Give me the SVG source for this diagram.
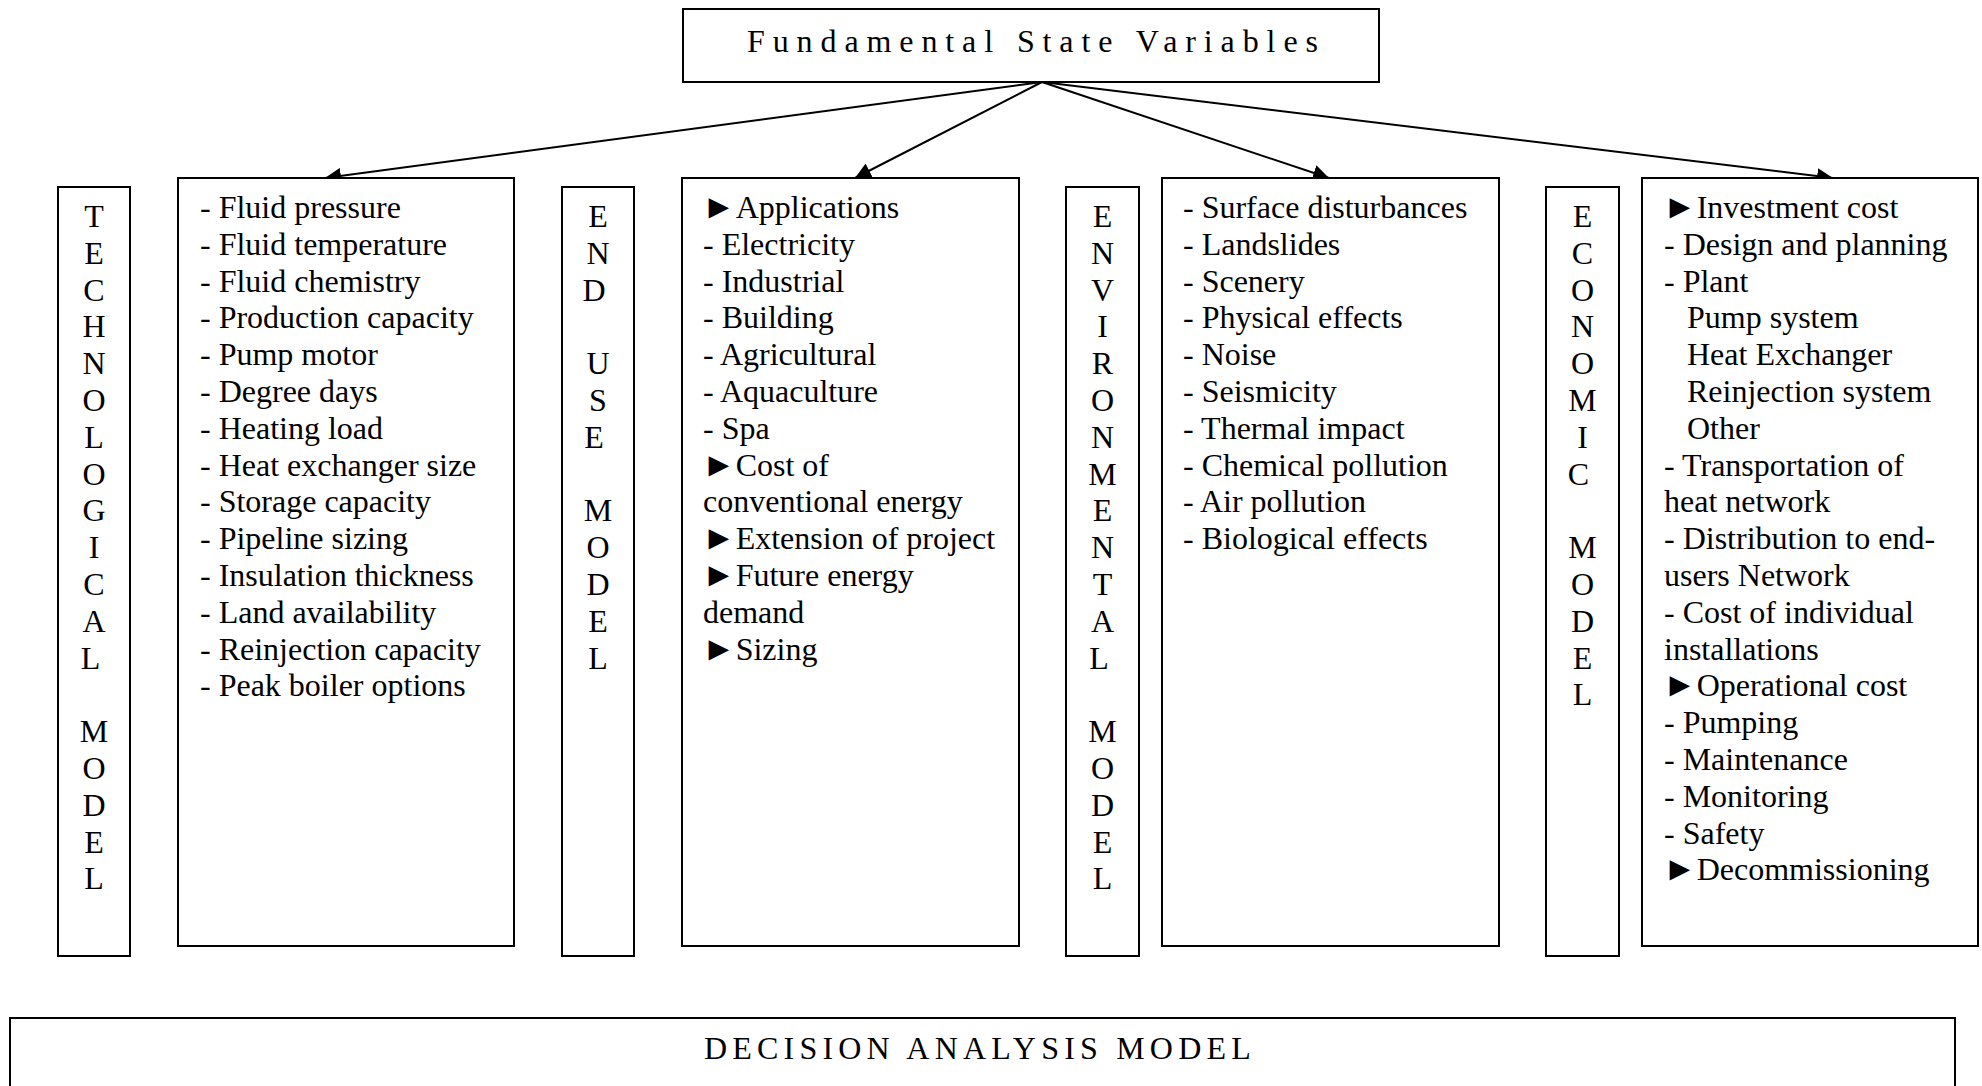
<svg xmlns="http://www.w3.org/2000/svg" width="1982" height="1086" viewBox="0 0 1982 1086">
<style>
  .box { fill: #ffffff; stroke: #000000; stroke-width: 2; }
  .txt { font-family: "Liberation Serif", "Times New Roman", serif; font-size: 32px; fill: #000000; }
  .lbl { font-family: "Liberation Serif", "Times New Roman", serif; font-size: 32px; fill: #000000; text-anchor: middle; }
  .tri { font-size: 34px; }
  .conn { stroke: #000000; stroke-width: 2; fill: none; marker-end: url(#arrow); }
</style>
<defs>
  <marker id="arrow" markerUnits="userSpaceOnUse" markerWidth="17" markerHeight="16" refX="16" refY="8" orient="auto">
    <path d="M0,0 L16,8 L0,16 Z" fill="#000000"/>
  </marker>
</defs>
<rect width="1982" height="1086" fill="#ffffff"/>

<g id="connectors">
  <line class="conn" x1="1042" y1="82" x2="325" y2="178"/>
  <line class="conn" x1="1042" y1="82" x2="855" y2="178"/>
  <line class="conn" x1="1042" y1="82" x2="1329" y2="178"/>
  <line class="conn" x1="1042" y1="82" x2="1833" y2="178"/>
</g>

<g id="fundamental">
  <rect class="box" x="683" y="9" width="696" height="73"/>
  <text class="txt" x="747" y="52" letter-spacing="7.9">Fundamental State Variables</text>
</g>

<g id="tech-label">
  <rect class="box" x="58" y="187" width="72" height="769"/>
  <text class="lbl">
    <tspan x="94" y="227">T</tspan><tspan x="94" y="263.8">E</tspan><tspan x="94" y="300.6">C</tspan><tspan x="94" y="337.4">H</tspan><tspan x="94" y="374.2">N</tspan><tspan x="94" y="411">O</tspan><tspan x="94" y="447.8">L</tspan><tspan x="94" y="484.6">O</tspan><tspan x="94" y="521.4">G</tspan><tspan x="94" y="558.2">I</tspan><tspan x="94" y="595">C</tspan><tspan x="94" y="631.8">A</tspan><tspan x="94" y="668.6">L</tspan>
    <tspan x="94" y="742.2">M</tspan><tspan x="94" y="779">O</tspan><tspan x="94" y="815.8">D</tspan><tspan x="94" y="852.6">E</tspan><tspan x="94" y="889.4">L</tspan>
  </text>
</g>

<g id="tech-content">
  <rect class="box" x="178" y="178" width="336" height="768"/>
  <text class="txt">
    <tspan x="200" y="218">- Fluid pressure</tspan>
    <tspan x="200" y="254.8">- Fluid temperature</tspan>
    <tspan x="200" y="291.6">- Fluid chemistry</tspan>
    <tspan x="200" y="328.4">- Production capacity</tspan>
    <tspan x="200" y="365.2">- Pump motor</tspan>
    <tspan x="200" y="402">- Degree days</tspan>
    <tspan x="200" y="438.8">- Heating load</tspan>
    <tspan x="200" y="475.6">- Heat exchanger size</tspan>
    <tspan x="200" y="512.4">- Storage capacity</tspan>
    <tspan x="200" y="549.2">- Pipeline sizing</tspan>
    <tspan x="200" y="586">- Insulation thickness</tspan>
    <tspan x="200" y="622.8">- Land availability</tspan>
    <tspan x="200" y="659.6">- Reinjection capacity</tspan>
    <tspan x="200" y="696.4">- Peak boiler options</tspan>
  </text>
</g>

<g id="enduse-label">
  <rect class="box" x="562" y="187" width="72" height="769"/>
  <text class="lbl">
    <tspan x="598" y="227">E</tspan><tspan x="598" y="263.8">N</tspan><tspan x="598" y="300.6">D</tspan>
    <tspan x="598" y="374.2">U</tspan><tspan x="598" y="411">S</tspan><tspan x="598" y="447.8">E</tspan>
    <tspan x="598" y="521.4">M</tspan><tspan x="598" y="558.2">O</tspan><tspan x="598" y="595">D</tspan><tspan x="598" y="631.8">E</tspan><tspan x="598" y="668.6">L</tspan>
  </text>
</g>

<g id="enduse-content">
  <rect class="box" x="682" y="178" width="337" height="768"/>
  <text class="txt">
    <tspan x="702" y="218" class="tri">►</tspan><tspan>Applications</tspan>
    <tspan x="703" y="254.8">- Electricity</tspan>
    <tspan x="703" y="291.6">- Industrial</tspan>
    <tspan x="703" y="328.4">- Building</tspan>
    <tspan x="703" y="365.2">- Agricultural</tspan>
    <tspan x="703" y="402">- Aquaculture</tspan>
    <tspan x="703" y="438.8">- Spa</tspan>
    <tspan x="702" y="475.6" class="tri">►</tspan><tspan>Cost of</tspan>
    <tspan x="703" y="512.4">conventional energy</tspan>
    <tspan x="702" y="549.2" class="tri">►</tspan><tspan>Extension of project</tspan>
    <tspan x="702" y="586" class="tri">►</tspan><tspan>Future energy</tspan>
    <tspan x="703" y="622.8">demand</tspan>
    <tspan x="702" y="659.6" class="tri">►</tspan><tspan>Sizing</tspan>
  </text>
</g>

<g id="env-label">
  <rect class="box" x="1066" y="187" width="73" height="769"/>
  <text class="lbl">
    <tspan x="1102.5" y="227">E</tspan><tspan x="1102.5" y="263.8">N</tspan><tspan x="1102.5" y="300.6">V</tspan><tspan x="1102.5" y="337.4">I</tspan><tspan x="1102.5" y="374.2">R</tspan><tspan x="1102.5" y="411">O</tspan><tspan x="1102.5" y="447.8">N</tspan><tspan x="1102.5" y="484.6">M</tspan><tspan x="1102.5" y="521.4">E</tspan><tspan x="1102.5" y="558.2">N</tspan><tspan x="1102.5" y="595">T</tspan><tspan x="1102.5" y="631.8">A</tspan><tspan x="1102.5" y="668.6">L</tspan>
    <tspan x="1102.5" y="742.2">M</tspan><tspan x="1102.5" y="779">O</tspan><tspan x="1102.5" y="815.8">D</tspan><tspan x="1102.5" y="852.6">E</tspan><tspan x="1102.5" y="889.4">L</tspan>
  </text>
</g>

<g id="env-content">
  <rect class="box" x="1162" y="178" width="337" height="768"/>
  <text class="txt">
    <tspan x="1183" y="218">- Surface disturbances</tspan>
    <tspan x="1183" y="254.8">- Landslides</tspan>
    <tspan x="1183" y="291.6">- Scenery</tspan>
    <tspan x="1183" y="328.4">- Physical effects</tspan>
    <tspan x="1183" y="365.2">- Noise</tspan>
    <tspan x="1183" y="402">- Seismicity</tspan>
    <tspan x="1183" y="438.8">- Thermal impact</tspan>
    <tspan x="1183" y="475.6">- Chemical pollution</tspan>
    <tspan x="1183" y="512.4">- Air pollution</tspan>
    <tspan x="1183" y="549.2">- Biological effects</tspan>
  </text>
</g>

<g id="econ-label">
  <rect class="box" x="1546" y="187" width="73" height="769"/>
  <text class="lbl">
    <tspan x="1582.5" y="227">E</tspan><tspan x="1582.5" y="263.8">C</tspan><tspan x="1582.5" y="300.6">O</tspan><tspan x="1582.5" y="337.4">N</tspan><tspan x="1582.5" y="374.2">O</tspan><tspan x="1582.5" y="411">M</tspan><tspan x="1582.5" y="447.8">I</tspan><tspan x="1582.5" y="484.6">C</tspan>
    <tspan x="1582.5" y="558.2">M</tspan><tspan x="1582.5" y="595">O</tspan><tspan x="1582.5" y="631.8">D</tspan><tspan x="1582.5" y="668.6">E</tspan><tspan x="1582.5" y="705.4">L</tspan>
  </text>
</g>

<g id="econ-content">
  <rect class="box" x="1642" y="178" width="336" height="768"/>
  <text class="txt">
    <tspan x="1663" y="218" class="tri">►</tspan><tspan>Investment cost</tspan>
    <tspan x="1664" y="254.8">- Design and planning</tspan>
    <tspan x="1664" y="291.6">- Plant</tspan>
    <tspan x="1687" y="328.4">Pump system</tspan>
    <tspan x="1687" y="365.2">Heat Exchanger</tspan>
    <tspan x="1687" y="402">Reinjection system</tspan>
    <tspan x="1687" y="438.8">Other</tspan>
    <tspan x="1664" y="475.6">- Transportation of</tspan>
    <tspan x="1664" y="512.4">heat network</tspan>
    <tspan x="1664" y="549.2">- Distribution to end-</tspan>
    <tspan x="1664" y="586">users Network</tspan>
    <tspan x="1664" y="622.8">- Cost of individual</tspan>
    <tspan x="1664" y="659.6">installations</tspan>
    <tspan x="1663" y="696.4" class="tri">►</tspan><tspan>Operational cost</tspan>
    <tspan x="1664" y="733.2">- Pumping</tspan>
    <tspan x="1664" y="770">- Maintenance</tspan>
    <tspan x="1664" y="806.8">- Monitoring</tspan>
    <tspan x="1664" y="843.6">- Safety</tspan>
    <tspan x="1663" y="880.4" class="tri">►</tspan><tspan>Decommissioning</tspan>
  </text>
</g>

<g id="decision">
  <rect class="box" x="10" y="1018" width="1945" height="100"/>
  <text class="txt" x="704" y="1059" letter-spacing="5.2">DECISION ANALYSIS MODEL</text>
</g>
</svg>
